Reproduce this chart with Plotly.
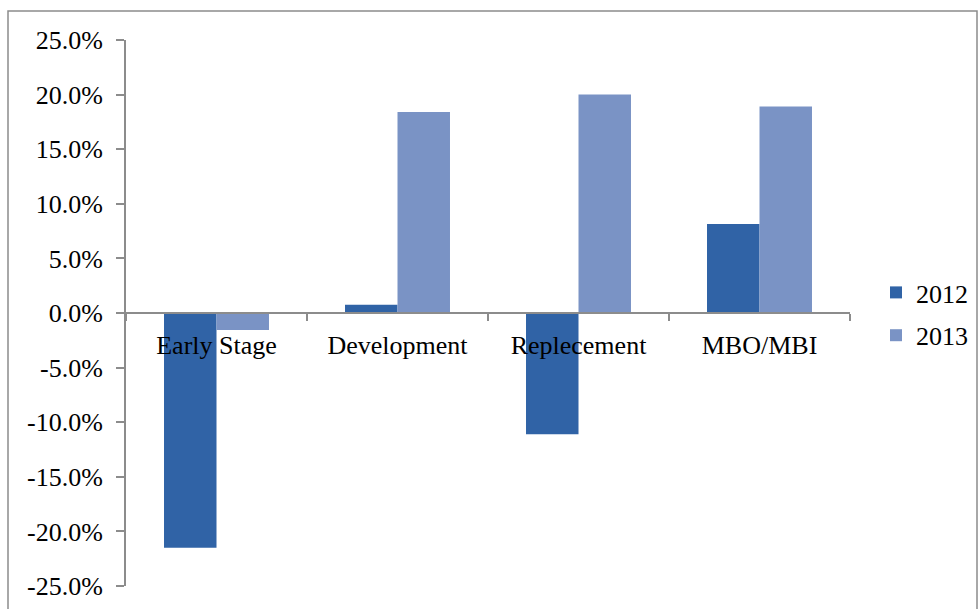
import plotly.graph_objects as go

categories = ["Early Stage", "Development", "Replecement", "MBO/MBI"]
series_names = ["2012", "2013"]
values_2012 = [-0.215, 0.0075, -0.111, 0.0815]
values_2013 = [-0.0155, 0.184, 0.200, 0.189]
tick_vals = [-0.25, -0.20, -0.15, -0.10, -0.05, 0.0, 0.05, 0.10, 0.15, 0.20, 0.25]
tick_text = ["-25.0%", "-20.0%", "-15.0%", "-10.0%", "-5.0%", "0.0%",
             "5.0%", "10.0%", "15.0%", "20.0%", "25.0%"]

FONT = "Liberation Serif"

fig = go.Figure()
fig.add_trace(go.Bar(x=categories, y=values_2012, name=series_names[0],
                     marker=dict(color="#3063A6", line=dict(width=0)),
                     legendgroup="a"))
fig.add_trace(go.Bar(x=categories, y=values_2013, name=series_names[1],
                     marker=dict(color="#7A93C5", line=dict(width=0)),
                     legendgroup="b"))

W, H = 978, 609
L, T, B = 126, 40, 23
plot_right = 850
aw = W - L          # paper width (right margin 0)
ph = H - T - B

def px_x(x):
    return (x - L) / aw

def px_y(y):
    return (H - B - y) / ph

fig.update_layout(
    width=W, height=H,
    margin=dict(l=L, r=0, t=T, b=B, pad=0, autoexpand=False),
    paper_bgcolor="white", plot_bgcolor="white",
    barmode="group", bargap=0.42, bargroupgap=0,
    font=dict(family=FONT, size=26, color="black"),
    showlegend=True,
    legend=dict(x=px_x(876), xanchor="left", y=px_y(314), yanchor="middle",
                font=dict(family=FONT, size=26), tracegroupgap=6,
                itemwidth=30, bgcolor="rgba(0,0,0,0)"),
    xaxis=dict(domain=[0, px_x(plot_right)], anchor="free", position=0.5,
               showline=True, linecolor="#8c8c8c", linewidth=2,
               ticks="outside", tickson="boundaries", ticklen=7, tickcolor="#8c8c8c", tickwidth=2,
               showgrid=False, zeroline=False, range=[-0.5, 3.5],
               tickfont=dict(family=FONT, size=26), ticklabelstandoff=9),
    yaxis=dict(range=[-0.25, 0.25], tickvals=tick_vals, ticktext=tick_text,
               showline=True, linecolor="#8c8c8c", linewidth=2,
               ticks="outside", ticklen=8, tickcolor="#8c8c8c", tickwidth=2,
               showgrid=False, zeroline=False, domain=[0, 1],
               tickfont=dict(family=FONT, size=26), ticklabelstandoff=8),
)

fig.add_shape(type="rect", xref="paper", yref="paper",
              x0=px_x(8), x1=px_x(977),
              y0=px_y(640), y1=px_y(11),
              line=dict(color="#8c8c8c", width=1.5), fillcolor="rgba(0,0,0,0)", layer="below")

fig.write_html("out.html")
